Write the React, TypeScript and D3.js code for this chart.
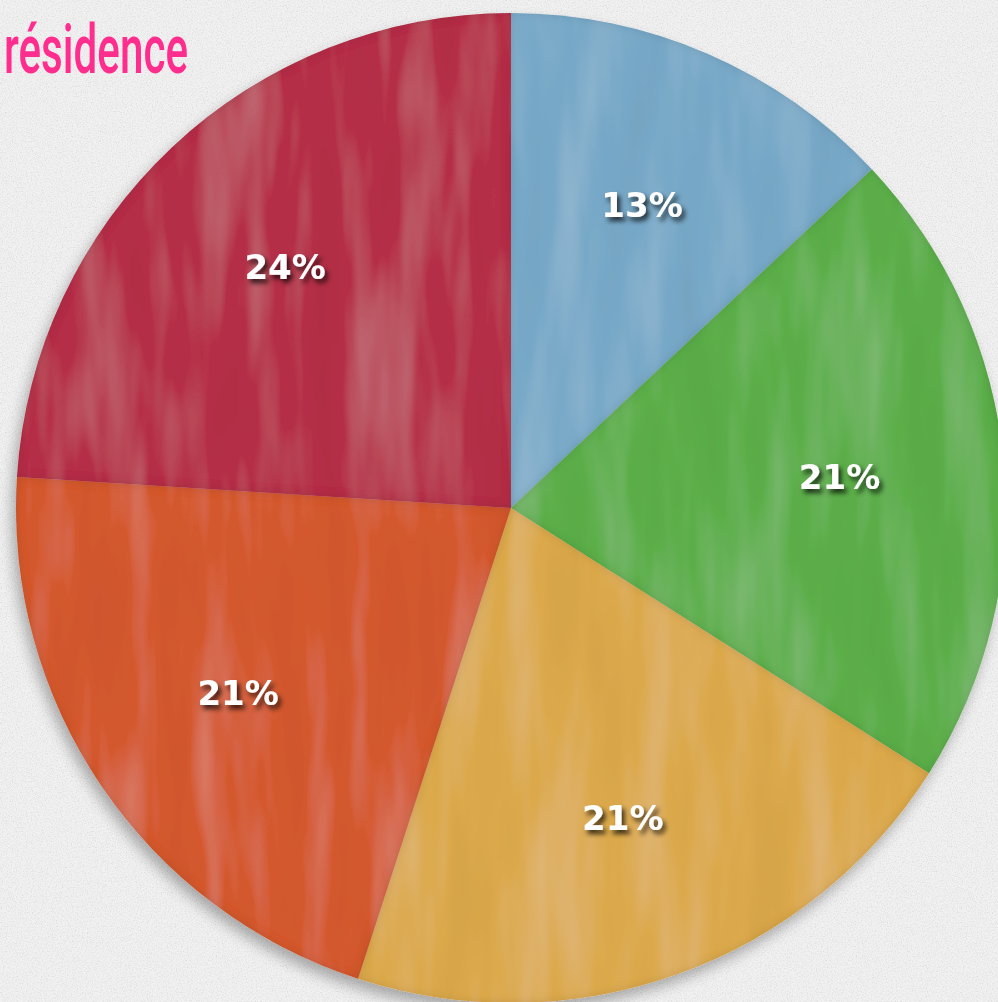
import React, { useEffect, useRef } from "react";
import * as d3 from "d3";

const categories = ["A", "B", "C", "D", "E"];
const values = [13, 21, 21, 21, 24];
const labels = ["13%", "21%", "21%", "21%", "24%"];
const colors = ["#78a9c8", "#5cae48", "#dca94c", "#d4592f", "#b52d47"];
const title = "résidence";

export default function App() {
  const ref = useRef<SVGSVGElement>(null);
  useEffect(() => {
    const W = 998, H = 1002;
    const svg = d3.select(ref.current!);
    svg.selectAll("*").remove();
    const defs = svg.append("defs");

    // paper texture
    const paper = defs.append("filter").attr("id", "paper").attr("x", 0).attr("y", 0).attr("width", "100%").attr("height", "100%");
    paper.append("feTurbulence").attr("type", "fractalNoise").attr("baseFrequency", 0.8).attr("numOctaves", 2).attr("seed", 3).attr("result", "n");
    paper.append("feColorMatrix").attr("type", "matrix")
      .attr("values", "0 0 0 0 0.5  0 0 0 0 0.5  0 0 0 0 0.5  0 0 0 -0.9 0.5").attr("result", "g");
    paper.append("feComposite").attr("in", "g").attr("in2", "SourceGraphic").attr("operator", "in").attr("result", "gc");
    paper.append("feBlend").attr("in", "SourceGraphic").attr("in2", "gc").attr("mode", "multiply");

    // brush texture: light & dark vertical strokes, subtle
    const brush = defs.append("filter").attr("id", "brush").attr("x", "-5%").attr("y", "-5%").attr("width", "110%").attr("height", "110%");
    brush.append("feTurbulence").attr("type", "fractalNoise").attr("baseFrequency", "0.025 0.004").attr("numOctaves", 3).attr("seed", 11).attr("result", "t");
    brush.append("feColorMatrix").attr("in", "t").attr("type", "matrix")
      .attr("values", "0 0 0 0 1  0 0 0 0 1  0 0 0 0 1  1.6 0 0 0 -0.75").attr("result", "light");
    brush.append("feColorMatrix").attr("in", "t").attr("type", "matrix")
      .attr("values", "0 0 0 0 0  0 0 0 0 0  0 0 0 0 0  -1.6 0 0 0 0.8").attr("result", "dark");
    brush.append("feComposite").attr("in", "light").attr("in2", "SourceGraphic").attr("operator", "in").attr("result", "lc");
    brush.append("feComposite").attr("in", "dark").attr("in2", "SourceGraphic").attr("operator", "in").attr("result", "dc");
    brush.append("feComponentTransfer").attr("in", "lc").attr("result", "lc2")
      .append("feFuncA").attr("type", "linear").attr("slope", 0.18);
    brush.append("feComponentTransfer").attr("in", "dc").attr("result", "dc2")
      .append("feFuncA").attr("type", "linear").attr("slope", 0.12);
    brush.append("feMerge").call(m => {
      m.append("feMergeNode").attr("in", "SourceGraphic");
      m.append("feMergeNode").attr("in", "lc2");
      m.append("feMergeNode").attr("in", "dc2");
    });

    // drop shadow for pie
    const sh = defs.append("filter").attr("id", "pieShadow").attr("x", "-10%").attr("y", "-10%").attr("width", "120%").attr("height", "120%");
    sh.append("feGaussianBlur").attr("in", "SourceAlpha").attr("stdDeviation", 7);
    sh.append("feOffset").attr("dx", -4).attr("dy", 8).attr("result", "ob");
    sh.append("feComponentTransfer").attr("in", "ob").attr("result", "ob2").append("feFuncA").attr("type", "linear").attr("slope", 0.3);
    sh.append("feMerge").call(m => { m.append("feMergeNode").attr("in", "ob2"); m.append("feMergeNode").attr("in", "SourceGraphic"); });

    // inner edge shading for slices
    const es = defs.append("filter").attr("id", "inner").attr("x", "-5%").attr("y", "-5%").attr("width", "110%").attr("height", "110%");
    es.append("feGaussianBlur").attr("in", "SourceAlpha").attr("stdDeviation", 5).attr("result", "b");
    es.append("feComposite").attr("in", "SourceAlpha").attr("in2", "b").attr("operator", "out").attr("result", "edgeMask");
    es.append("feFlood").attr("flood-color", "#000").attr("flood-opacity", 0.22).attr("result", "f");
    es.append("feComposite").attr("in", "f").attr("in2", "edgeMask").attr("operator", "in").attr("result", "ed");
    es.append("feComposite").attr("in", "ed").attr("in2", "SourceAlpha").attr("operator", "in").attr("result", "ed2");
    es.append("feMerge").call(m => { m.append("feMergeNode").attr("in", "SourceGraphic"); m.append("feMergeNode").attr("in", "ed2"); });

    // text shadow
    const ts = defs.append("filter").attr("id", "txt").attr("x", "-30%").attr("y", "-30%").attr("width", "160%").attr("height", "160%");
    ts.append("feGaussianBlur").attr("in", "SourceAlpha").attr("stdDeviation", 2.5);
    ts.append("feOffset").attr("dx", 3).attr("dy", 4).attr("result", "b");
    ts.append("feComponentTransfer").attr("in", "b").attr("result", "b2").append("feFuncA").attr("type", "linear").attr("slope", 0.75);
    ts.append("feMerge").call(m => { m.append("feMergeNode").attr("in", "b2"); m.append("feMergeNode").attr("in", "SourceGraphic"); });

    svg.append("rect").attr("width", W).attr("height", H).attr("fill", "#f1f1f1").attr("filter", "url(#paper)");

    const cx = 511, cy = 508, R = 495;
    const pie = d3.pie<number>().sort(null).value(d => d);
    const arcs = pie(values);
    const arc = d3.arc<d3.PieArcDatum<number>>().innerRadius(0).outerRadius(R);
    const labelArc = d3.arc<d3.PieArcDatum<number>>().innerRadius(330).outerRadius(330);

    const g = svg.append("g").attr("transform", `translate(${cx},${cy})`).attr("filter", "url(#pieShadow)");
    arcs.forEach((a, i) => {
      const sg = g.append("g").attr("filter", "url(#inner)");
      sg.append("path").attr("d", arc(a)!).attr("fill", colors[i]).attr("filter", "url(#brush)");
    });

    const lg = svg.append("g").attr("transform", `translate(${cx},${cy})`);
    arcs.forEach((a, i) => {
      const [x, y] = labelArc.centroid(a);
      lg.append("text").attr("x", x).attr("y", y).attr("dy", "0.35em")
        .attr("text-anchor", "middle")
        .attr("font-family", "'DejaVu Sans', sans-serif")
        .attr("font-size", 34).attr("font-weight", "bold").attr("fill", "#ffffff")
        .attr("filter", "url(#txt)")
        .attr("data-cat", categories[i])
        .text(labels[i]);
    });

    svg.append("text").attr("x", 4).attr("y", 73)
      .attr("font-family", "Roboto, 'Liberation Sans', sans-serif")
      .attr("font-size", 68).attr("font-weight", 500).attr("fill", "#ff2d8d")
      .attr("textLength", 184).attr("lengthAdjust", "spacingAndGlyphs")
      .text(title);
  }, []);
  return (
    <svg ref={ref} width={998} height={1002}
      style={{ position: "absolute", left: 0, top: 0, display: "block" }} />
  );
}
